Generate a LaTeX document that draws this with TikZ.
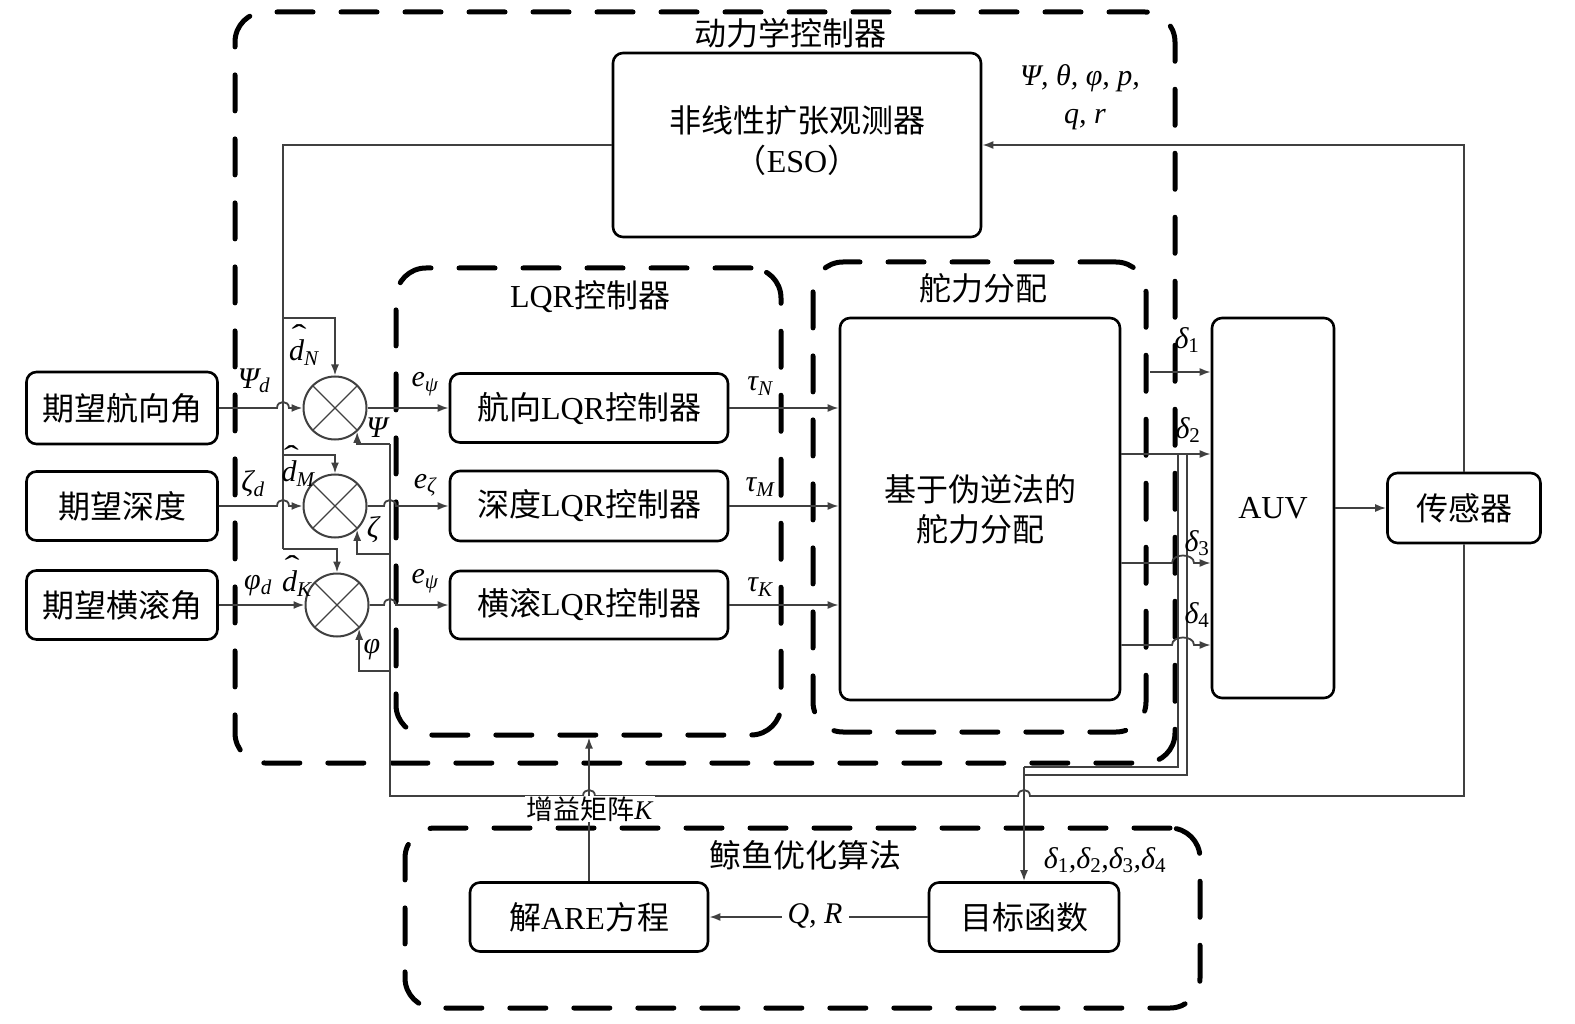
\RequirePackage{fix-cm}
\documentclass[tikz,border=0pt]{standalone}
\usepackage{fontspec}
\setmainfont{Liberation Serif}
\newfontfamily\cjk{Noto Sans CJK SC}
\usetikzlibrary{arrows.meta,calc}
\newcommand\sbs[1]{\textsubscript{#1}}
\newcommand\dhat{\makebox[0pt][l]{\hspace{0.08em}\raisebox{0.5em}{\upshape\scalebox{1.5}[1]{\char"02C6}}}d}
\begin{document}
\begin{tikzpicture}[x=1pt,y=-1pt,
  box/.style={draw, line width=2.6pt, rounded corners=10pt, inner sep=0pt, align=center, font=\fontsize{32}{40}\selectfont},
  dbox/.style={draw, line width=5pt, dash pattern=on 36pt off 28pt, line cap=round, rounded corners=30pt, inner sep=0pt},
  conn/.style={draw=black!75, line width=1.8pt},
  arr/.style={conn, -{Latex[length=11pt,width=8pt]}},
  lab/.style={font=\fontsize{30}{34}\selectfont\itshape, inner sep=1pt},
  ttl/.style={font=\fontsize{32}{38}\selectfont, inner sep=1pt},
  sumc/.style={circle, draw=black!75, line width=2pt, minimum size=63pt, inner sep=0pt}
]
\useasboundingbox (0,0) rectangle (1575,1024);

% dashed groups
\node[dbox, minimum width=940pt, minimum height=751pt] (dyn) at (705,387.5) {};
\node[dbox, minimum width=385pt, minimum height=467pt] (lqrbox) at (588.5,501.5) {};
\node[dbox, minimum width=333pt, minimum height=470pt] (allocbox) at (979.5,497) {};
\node[dbox, minimum width=795pt, minimum height=180pt] (woa) at (802.5,918) {};

\node[ttl] (t1) at (790,33) {\cjk 动力学控制器};
\node[ttl] (t2) at (590,297) {LQR{\cjk 控制器}};
\node[ttl] (t3) at (983,288) {\cjk 舵力分配};
\node[ttl] (t4) at (805,855) {\cjk 鲸鱼优化算法};

% solid boxes
\node[box, minimum width=191pt, minimum height=72pt] (in1) at (122,408) {\cjk 期望航向角};
\node[box, minimum width=191pt, minimum height=69pt] (in2) at (122,506) {\cjk 期望深度};
\node[box, minimum width=191pt, minimum height=69pt] (in3) at (122,605) {\cjk 期望横滚角};
\node[box, minimum width=278pt, minimum height=69pt] (lqr1) at (589,408) {{\cjk 航向}LQR{\cjk 控制器}};
\node[box, minimum width=278pt, minimum height=70pt] (lqr2) at (589,506) {{\cjk 深度}LQR{\cjk 控制器}};
\node[box, minimum width=278pt, minimum height=68pt] (lqr3) at (589,605) {{\cjk 横滚}LQR{\cjk 控制器}};
\node[box, minimum width=280pt, minimum height=382pt] (alloc) at (980,509) {{\cjk 基于伪逆法的}\\{\cjk 舵力分配}};
\node[box, minimum width=368pt, minimum height=184pt] (eso) at (797,145) {\raisebox{7pt}{\begin{tabular}{@{}c@{}}{\cjk 非线性扩张观测器}\\{\cjk （}ESO{\cjk ）}\end{tabular}}};
\node[box, minimum width=122pt, minimum height=380pt] (auv) at (1273,508) {AUV};
\node[box, minimum width=153pt, minimum height=70pt] (sensor) at (1464,508) {\cjk 传感器};
\node[box, minimum width=238pt, minimum height=69pt] (are) at (589,917) {{\cjk 解}ARE{\cjk 方程}};
\node[box, minimum width=190pt, minimum height=69pt] (obj) at (1024,917) {\cjk 目标函数};

% summing junctions
\node[sumc] (s1) at (335,408) {};
\node[sumc] (s2) at (335,506) {};
\node[sumc] (s3) at (337,605) {};
\foreach \s in {s1,s2,s3}{
  \draw[draw=black!75, line width=1.4pt] (\s.45) -- (\s.225) (\s.135) -- (\s.-45);
}

% reference inputs
\draw[arr] (in1.east) -- (277,408) .. controls (277,400) and (289,400) .. (289,408) -- (s1.west);
\draw[arr] (in2.east) -- (277,506) .. controls (277,498) and (289,498) .. (289,506) -- (s2.west);
\draw[arr] (in3.east) -- (s3.west);

% errors to LQR
\draw[arr] (s1.east) -- (lqr1.west);
\draw[arr] (s2.east) -- (384,506) .. controls (384,498) and (396,498) .. (396,506) -- (lqr2.west);
\draw[arr] (s3.east) -- (384,605) .. controls (384,597) and (396,597) .. (396,605) -- (lqr3.west);

% tau to allocation
\draw[arr] (lqr1.east) -- (lqr1.east -| alloc.west);
\draw[arr] (lqr2.east) -- (lqr2.east -| alloc.west);
\draw[arr] (lqr3.east) -- (lqr3.east -| alloc.west);

% ESO disturbance estimates
\coordinate (ew) at (283,145);
\coordinate (dN) at (283,318);
\coordinate (dM) at (283,455);
\coordinate (dK) at (283,549);
\draw[conn] (eso.west |- ew) -- (ew) -- (dK);
\draw[arr] (dN) -| (s1.north);
\draw[arr] (dM) -| (s2.north);
\draw[arr] (dK) -| (s3.north);

% state feedback
\coordinate (fb1) at (390,444);
\coordinate (fb2) at (390,554);
\coordinate (fb3) at (390,671);
\coordinate (fbb) at (390,796);
\draw[conn] (sensor.south) |- (1030,796) .. controls (1030,788) and (1018,788) .. (1018,796)
   -- (595,796) .. controls (595,788) and (583,788) .. (583,796) -- (fbb) -- (fb1);
\draw[arr] (fb1) -| (s1.-47);
\draw[arr] (fb2) -| (s2.-47);
\draw[arr] (fb3) -| (s3.-47);

% sensor to ESO, AUV to sensor
\draw[arr] (sensor.north) |- (eso.east);
\draw[arr] (auv.east) -- (sensor.west);

% rudder commands
\coordinate (d1) at (1150,372);
\coordinate (d2) at (1150,454);
\coordinate (d3) at (1150,563);
\coordinate (d4) at (1150,645);
\draw[arr] (d1) -- (d1 -| auv.west);
\draw[arr] (d2 -| alloc.east) -- (d2 -| auv.west);
\draw[arr] (d3 -| alloc.east) -- (1172,563) .. controls (1172,553) and (1194,553) .. (1194,563) -- (d3 -| auv.west);
\draw[arr] (d4 -| alloc.east) -- (1172,645) .. controls (1172,635) and (1194,635) .. (1194,645) -- (d4 -| auv.west);

% collection to objective function
\coordinate (cA) at (1178,454);
\coordinate (cB) at (1187,454);
\coordinate (cj) at (1024,767);
\draw[conn] (cA) |- (cj);
\draw[conn] (cB) |- (1024,775);
\draw[arr] (cj) -- (obj.north);

% gain K
\draw[arr] (are.north) -- (are.north |- lqrbox.south);
\node[font=\fontsize{27}{30}\selectfont, fill=white, inner sep=1pt] (kl) at (590,809) {{\cjk 增益矩阵}\textit{K}};

% Q,R
\draw[arr] (obj.west) -- (are.east);
\node[lab, fill=white, inner xsep=6pt] (qr) at (815,916) {Q, R};

% labels
\node[lab] (lPd) at (254,381) {Ψ\sbs{d}};
\node[lab] (lZd) at (253,484) {ζ\sbs{d}};
\node[lab] (lFd) at (258,586) {φ\sbs{d}};
\node[lab] (lhN) at (304,345) {\dhat\sbs{N}};
\node[lab] (lhM) at (298,466) {\dhat\sbs{M}};
\node[lab] (lhK) at (297,576) {\dhat\sbs{K}};
\node[lab] (lP) at (377,428) {Ψ};
\node[lab] (lZ) at (373,530) {ζ};
\node[lab] (lF) at (372,650) {φ};
\node[lab] (le1) at (425,384) {e\sbs{ψ}};
\node[lab] (le2) at (425,485) {e\sbs{ζ}};
\node[lab] (le3) at (425,581) {e\sbs{ψ}};
\node[lab] (lt1) at (760,386) {τ\sbs{N}};
\node[lab] (lt2) at (760,487) {τ\sbs{M}};
\node[lab] (lt3) at (760,587) {τ\sbs{K}};
\node[lab] (ld1) at (1187,340) {δ\sbs{\upshape 1}};
\node[lab] (ld2) at (1188,430) {δ\sbs{\upshape 2}};
\node[lab] (ld3) at (1197,543) {δ\sbs{\upshape 3}};
\node[lab] (ld4) at (1197,615) {δ\sbs{\upshape 4}};
\node[lab] (ls1) at (1080,78) {Ψ, θ, φ, p,};
\node[lab] (ls2) at (1085,120) {q, r};
\node[lab] (ldd) at (1105,860) {δ\sbs{\upshape 1},δ\sbs{\upshape 2},δ\sbs{\upshape 3},δ\sbs{\upshape 4}};
\end{tikzpicture}
\end{document}
